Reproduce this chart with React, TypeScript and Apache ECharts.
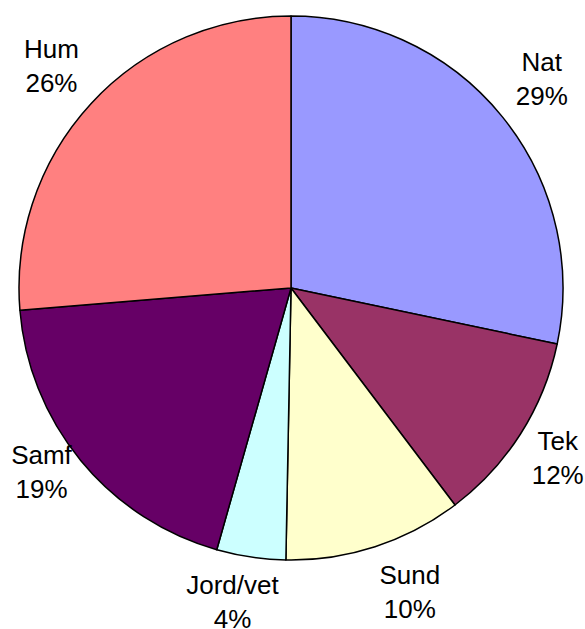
import React, { useEffect, useRef } from "react";
import * as echarts from "echarts";

const categories = ["Nat", "Tek", "Sund", "Jord/vet", "Samf", "Hum"];
const values = [28.3, 11.4, 10.6, 4.1, 19.3, 26.3];
const pctLabels = ["29%", "12%", "10%", "4%", "19%", "26%"];
const colors = ["#9999FF", "#993366", "#FFFFCC", "#CCFFFF", "#660066", "#FF8080"];
// small label nudges (Excel-style placement)
const labelNudge = [
  [0, -5],
  [-6, -3],
  [19, -3],
  [-11, -5],
  [0, -21],
  [-2, -3],
];

export default function App() {
  const ref = useRef<HTMLDivElement>(null);
  useEffect(() => {
    if (!ref.current) return;
    const chart = echarts.init(ref.current, undefined, { renderer: "svg" });
    const center = [291, 288];
    chart.setOption({
      animation: false,
      backgroundColor: "#ffffff",
      series: [
        {
          type: "pie",
          center,
          radius: 272,
          startAngle: 90,
          clockwise: true,
          silent: true,
          label: { show: false },
          labelLine: { show: false },
          emphasis: { disabled: true },
          itemStyle: { borderColor: "#000000", borderWidth: 1.5 },
          data: categories.map((c, i) => ({
            name: c,
            value: values[i],
            itemStyle: { color: colors[i] },
          })),
        },
        {
          type: "pie",
          center,
          radius: [284, 356],
          startAngle: 90,
          clockwise: true,
          silent: true,
          emphasis: { disabled: true },
          itemStyle: { color: "rgba(0,0,0,0)", borderWidth: 0 },
          labelLine: { show: false },
          label: {
            show: true,
            position: "inside",
            formatter: (p: any) => `${p.name}\n${pctLabels[p.dataIndex]}`,
            fontFamily: "Liberation Sans, Arial, sans-serif",
            fontSize: 26,
            lineHeight: 34,
            color: "#000000",
            align: "center",
          },
          data: categories.map((c, i) => ({
            name: c,
            value: values[i],
            label: { offset: labelNudge[i] },
          })),
        },
      ],
    });
    return () => chart.dispose();
  }, []);
  return (
    <div
      ref={ref}
      style={{ position: "absolute", left: 0, top: 0, width: 585, height: 629, background: "#fff" }}
    />
  );
}
